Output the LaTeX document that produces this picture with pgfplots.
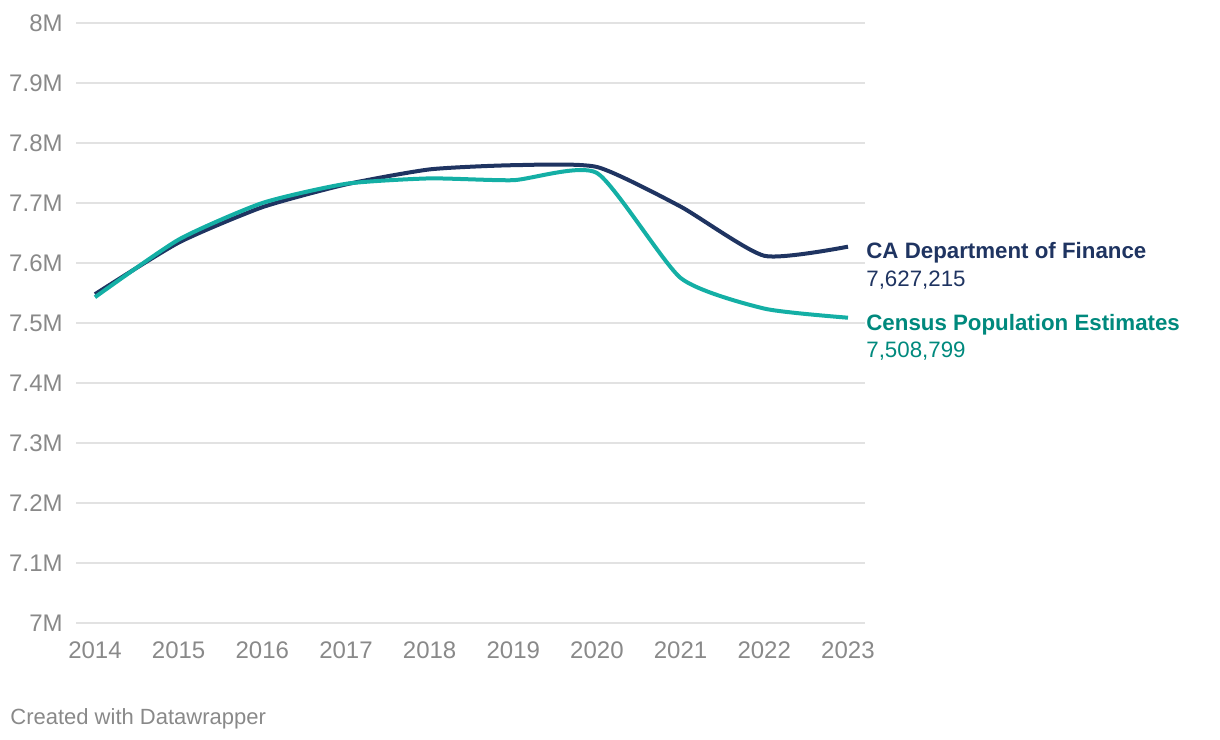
\documentclass[border=0pt]{standalone}
\usepackage{pgfplots}
\pgfplotsset{compat=1.18}
\usepackage{fontspec}
\setmainfont{Liberation Sans}
\definecolor{navy}{HTML}{1F3461}
\definecolor{tealline}{HTML}{14AFA5}
\definecolor{teallab}{HTML}{00897D}
\definecolor{gridc}{HTML}{E2E2E2}
\definecolor{tickc}{HTML}{898989}
\begin{document}
\begin{tikzpicture}
\useasboundingbox (-38bp,-58.5bp) rectangle (572bp,311.5bp);
\begin{axis}[
  at={(0,0)}, anchor=south west,
  scale only axis, width=394.5bp, height=300bp,
  xmin=2013.773, xmax=2023.203,
  ymin=7, ymax=8,
  axis line style={draw=none},
  major tick length=0pt,
  ymajorgrids, grid style={gridc, line width=1bp},
  xtick={2014,...,2023},
  xticklabels={2014,2015,2016,2017,2018,2019,2020,2021,2022,2023},
  ytick={7,7.1,7.2,7.3,7.4,7.5,7.6,7.7,7.8,7.9,8},
  yticklabels={7M,7.1M,7.2M,7.3M,7.4M,7.5M,7.6M,7.7M,7.8M,7.9M,8M},
  xticklabel style={font=\fontsize{12bp}{14bp}\selectfont, text=tickc, inner sep=0pt, anchor=north, yshift=-9bp},
  yticklabel style={font=\fontsize{12bp}{14bp}\selectfont, text=tickc, inner sep=0pt, anchor=east, xshift=-6.5bp},
  clip=false,
]
\addplot[navy, line width=2bp, smooth, tension=0.35] coordinates {
 (2014,7.548) (2015,7.634) (2016,7.693) (2017,7.731) (2018,7.756)
 (2019,7.763) (2020,7.760) (2021,7.694) (2022,7.612) (2023,7.627215)};
\addplot[tealline, line width=2bp, smooth, tension=0.35] coordinates {
 (2014,7.543) (2015,7.639) (2016,7.700) (2017,7.732) (2018,7.741)
 (2019,7.738) (2020,7.750) (2021,7.575) (2022,7.524) (2023,7.508799)};
\node[anchor=base west, inner sep=0pt, text=navy, font=\fontsize{11.15bp}{13bp}\selectfont\bfseries] at (axis cs:2023.215,7.6067) {CA Department of Finance};
\node[anchor=base west, inner sep=0pt, text=navy, font=\fontsize{11.15bp}{13bp}\selectfont] at (axis cs:2023.215,7.560) {7,627,215};
\node[anchor=base west, inner sep=0pt, text=teallab, font=\fontsize{11.15bp}{13bp}\selectfont\bfseries] at (axis cs:2023.215,7.4883) {Census Population Estimates};
\node[anchor=base west, inner sep=0pt, text=teallab, font=\fontsize{11.15bp}{13bp}\selectfont] at (axis cs:2023.215,7.4417) {7,508,799};
\end{axis}
\node[anchor=base west, inner sep=0pt, text=tickc, font=\fontsize{11bp}{13bp}\selectfont] at (-33bp,-50.5bp) {Created with Datawrapper};
\end{tikzpicture}
\end{document}
